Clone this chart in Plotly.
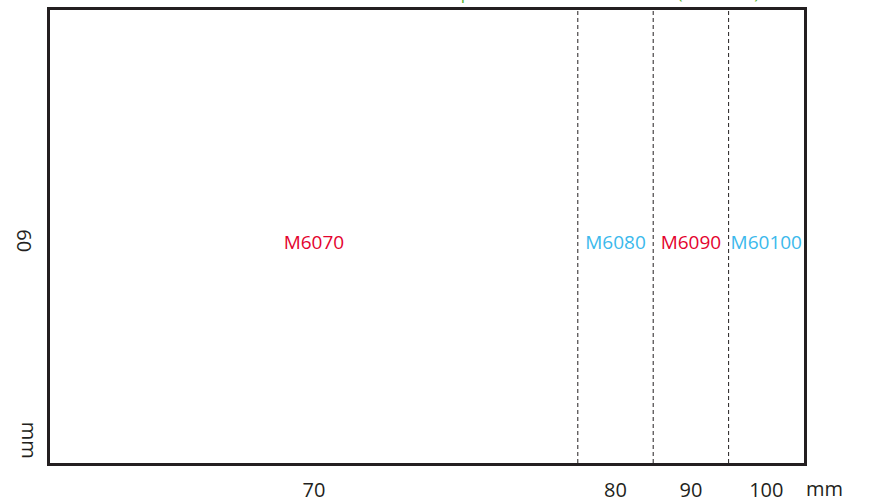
import plotly.graph_objects as go

# Datos del esquema (mm)
modelos = ["M6070", "M6080", "M6090", "M60100"]
anchos = [70, 80, 90, 100]
etiquetas_x = ["70", "80", "90", "100"]
alto = 60
colores = ["#e4032e", "#3bb9ec", "#e4032e", "#3bb9ec"]

# límites de cada zona y centro de su texto
inicios = [0] + anchos[:-1]
centros = [(a + b) / 2 for a, b in zip(inicios, anchos)]

fig = go.Figure()

fig.add_trace(go.Scatter(
    x=centros,
    y=[alto / 2] * len(modelos),
    mode="text",
    text=modelos,
    textfont=dict(color=colores, size=19, family="Open Sans"),
    showlegend=False,
    hoverinfo="skip",
))

# líneas discontinuas entre modelos
for x in anchos[:-1]:
    fig.add_shape(type="line", x0=x, x1=x, y0=0, y1=1, yref="paper",
                  line=dict(color="#231f20", width=1, dash="4px,3px"))

fig.add_annotation(text="Size comparison of the M60 models (unit: mm)",
                   xref="paper", yref="paper", x=0.943, y=1,
                   xanchor="right", yanchor="bottom", yshift=4,
                   showarrow=False,
                   font=dict(color="#5bb531", size=17, family="Open Sans"))

fig.add_annotation(text="mm", xref="paper", yref="paper", x=1, y=0,
                   xanchor="left", yanchor="top", xshift=0, yshift=-10,
                   showarrow=False,
                   font=dict(color="#231f20", size=20, family="Open Sans"))

fig.add_annotation(text="mm", xref="paper", yref="paper", x=0, y=0.05,
                   xanchor="right", yanchor="middle", xshift=-5,
                   textangle=90, showarrow=False,
                   font=dict(color="#231f20", size=20, family="Open Sans"))

fig.update_xaxes(range=[0, anchos[-1]], tickvals=centros, ticktext=etiquetas_x,
                 showgrid=False, zeroline=False, showline=True, mirror=True,
                 linecolor="#231f20", linewidth=3, ticks="", automargin=False,
                 ticklabelstandoff=7,
                 tickfont=dict(color="#231f20", size=20, family="Open Sans"))
fig.update_yaxes(range=[0, alto + 2], tickvals=[alto / 2], ticktext=[str(alto)],
                 tickangle=90, showgrid=False, zeroline=False, showline=True,
                 mirror=True, linecolor="#231f20", linewidth=3, ticks="",
                 automargin=False, ticklabelstandoff=6,
                 tickfont=dict(color="#231f20", size=20, family="Open Sans"))

fig.update_layout(
    width=889, height=501,
    margin=dict(l=50, r=85, t=10, b=38),
    plot_bgcolor="white", paper_bgcolor="white",
)

# sin margen del <body> para que el gráfico empiece en (0, 0)
fig.write_html("out.html", config={"displayModeBar": False},
               post_script="document.body.style.margin='0';")
